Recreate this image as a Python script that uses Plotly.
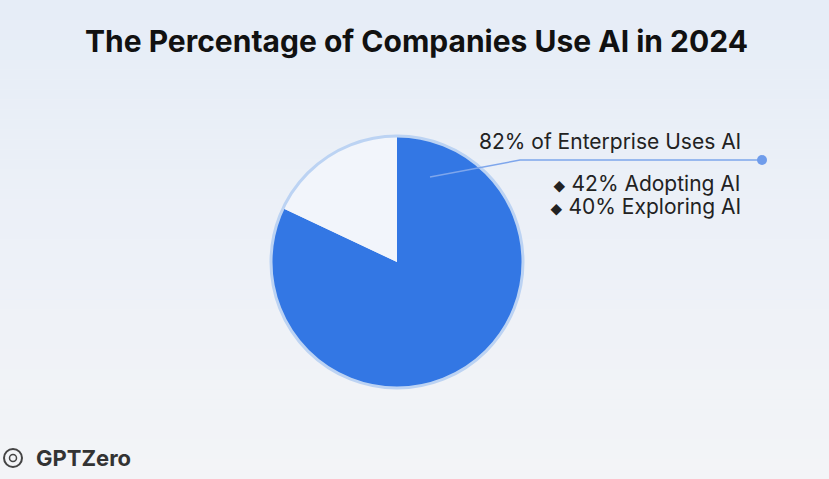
import plotly.graph_objects as go

# share of companies using AI in 2024
labels = ["Uses AI", "Not using AI"]
values = [82, 18]
slice_colors = ["#3377E4", "#F2F5FB"]

headline = "82% of Enterprise Uses AI"
breakdown = ["42% Adopting AI", "40% Exploring AI"]

W, H = 829, 479
cx, cy, r = 397, 262, 126

fig = go.Figure()

fig.add_trace(go.Pie(
    labels=labels,
    values=values,
    sort=False,
    direction="clockwise",
    rotation=0,
    marker=dict(colors=slice_colors, line=dict(width=0)),
    textinfo="none",
    hoverinfo="label+percent",
    domain=dict(x=[(cx - r) / W, (cx + r) / W], y=[1 - (cy + r) / H, 1 - (cy - r) / H]),
    showlegend=False,
))

# soft vertical gradient background made from thin bands
shapes = []
n = 48
top = (230, 237, 247)
bot = (243, 244, 247)
for i in range(n):
    t = i / (n - 1)
    c = tuple(round(top[k] + (bot[k] - top[k]) * t) for k in range(3))
    shapes.append(dict(type="rect", xref="paper", yref="paper", layer="below",
                       x0=0, x1=1, y0=1 - (i + 1) / n, y1=1 - i / n,
                       fillcolor="rgb(%d,%d,%d)" % c, line=dict(width=0)))


def px(x, y):
    return x / W, 1 - y / H


# outer ring of the pie only (no separators between slices)
shapes.append(dict(type="circle", xref="paper", yref="paper",
                   x0=(cx - r) / W, x1=(cx + r) / W, y0=1 - (cy + r) / H, y1=1 - (cy - r) / H,
                   line=dict(color="#BCD3F3", width=3)))

# callout line from the blue slice out to the right
x0, y0 = px(430, 177)
x1, y1 = px(520, 160)
x2, y2 = px(762, 160)
shapes.append(dict(type="path", xref="paper", yref="paper",
                   path="M %f %f L %f %f L %f %f" % (x0, y0, x1, y1, x2, y2),
                   line=dict(color="#7EA6EC", width=1.5)))
shapes.append(dict(type="circle", xref="paper", yref="paper",
                   x0=x2 - 5 / W, x1=x2 + 5 / W, y0=y2 - 5 / H, y1=y2 + 5 / H,
                   fillcolor="#6F9CEB", line=dict(width=0)))

# GPTZero logo mark
lx, ly = px(13, 458)
shapes.append(dict(type="circle", xref="paper", yref="paper",
                   x0=lx - 9 / W, x1=lx + 9 / W, y0=ly - 9 / H, y1=ly + 9 / H,
                   line=dict(color="#444", width=2)))
shapes.append(dict(type="circle", xref="paper", yref="paper",
                   x0=lx - 3.5 / W, x1=lx + 3.5 / W, y0=ly - 3.5 / H, y1=ly + 3.5 / H,
                   line=dict(color="#444", width=1.5)))

annotations = [
    dict(text="<b>The Percentage of Companies Use AI in 2024</b>",
         x=416 / W, y=1 - 41 / H, xref="paper", yref="paper", showarrow=False,
         xanchor="center", yanchor="middle",
         font=dict(size=30, color="#111111", family="Inter")),
    dict(text=headline, x=743 / W, y=1 - 141 / H, xref="paper", yref="paper",
         showarrow=False, xanchor="right", yanchor="middle",
         font=dict(size=21, color="#222222", family="Inter")),
    dict(text="<b>GPTZero</b>", x=34 / W, y=1 - 458 / H, xref="paper", yref="paper",
         showarrow=False, xanchor="left", yanchor="middle",
         font=dict(size=22, color="#333333", family="Inter")),
]
for i, item in enumerate(breakdown):
    annotations.append(dict(
        text="<span style='font-size:12px'>◆</span> " + item,
        x=743 / W, y=1 - (183 + 23 * i) / H, xref="paper", yref="paper",
        showarrow=False, xanchor="right", yanchor="middle",
        font=dict(size=21, color="#222222", family="Inter")))

fig.update_layout(
    width=W, height=H,
    margin=dict(l=0, r=0, t=0, b=0),
    paper_bgcolor="#EDF1F8",
    plot_bgcolor="rgba(0,0,0,0)",
    shapes=shapes,
    annotations=annotations,
)

fig.write_html("out.html", config={"displayModeBar": False},
               post_script="document.body.style.margin='0';")
